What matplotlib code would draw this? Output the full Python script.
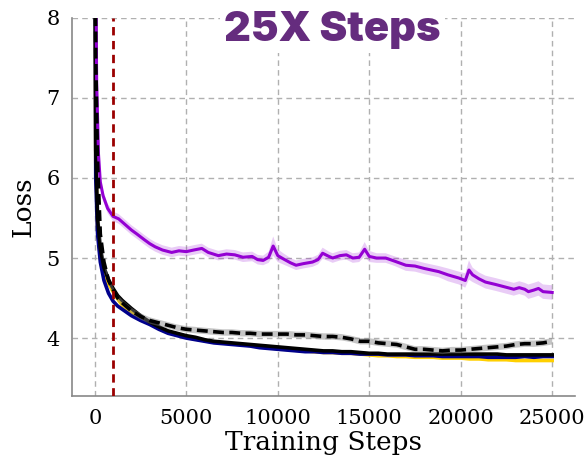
import matplotlib
matplotlib.use("Agg")
import matplotlib.pyplot as plt
import numpy as np

# ---- data ----
purple_steps = [0, 100, 200, 300, 450, 700, 1000, 1300, 1600, 2000, 2300, 2700, 3000, 3300, 3700,
                4200, 4600, 5000, 5400, 5850, 6200, 6750, 7200, 7650, 8100, 8600, 8900, 9200, 9500,
                9750, 10000, 10300, 10700, 11000, 11400, 11900, 12200, 12450, 12800, 13000, 13400,
                13750, 14100, 14450, 14750, 15000, 15400, 15900, 16400, 17000, 17500, 18000, 18400,
                18800, 19300, 19900, 20250, 20450, 20650, 21000, 21350, 21900, 22400, 22900, 23200,
                23500, 23700, 24000, 24250, 24500, 25000]
purple_loss = [10.5, 7.2, 6.3, 5.95, 5.78, 5.62, 5.52, 5.49, 5.43, 5.35, 5.30, 5.23, 5.18, 5.14, 5.10,
               5.07, 5.09, 5.08, 5.10, 5.12, 5.07, 5.03, 5.05, 5.04, 5.01, 5.02, 4.98, 4.97, 5.01,
               5.15, 5.03, 4.99, 4.94, 4.91, 4.93, 4.95, 4.98, 5.06, 5.02, 5.00, 5.03,
               5.04, 5.00, 5.01, 5.11, 5.02, 5.00, 5.00, 4.96, 4.91, 4.90, 4.87, 4.85,
               4.83, 4.79, 4.75, 4.72, 4.85, 4.79, 4.74, 4.70, 4.67, 4.64, 4.61, 4.63,
               4.61, 4.58, 4.60, 4.62, 4.58, 4.57]
purple_band = [0.1, 0.08, 0.07, 0.06, 0.06, 0.06, 0.06, 0.06, 0.06, 0.06, 0.06, 0.06, 0.06, 0.06, 0.06,
               0.06, 0.06, 0.06, 0.06, 0.06, 0.06, 0.06, 0.06, 0.06, 0.06, 0.06, 0.06, 0.06, 0.07,
               0.12, 0.08, 0.07, 0.06, 0.06, 0.06, 0.06, 0.06, 0.07, 0.06, 0.06, 0.06,
               0.06, 0.06, 0.06, 0.09, 0.07, 0.06, 0.06, 0.06, 0.07, 0.07, 0.07, 0.07,
               0.07, 0.08, 0.08, 0.09, 0.12, 0.09, 0.08, 0.08, 0.08, 0.08, 0.08, 0.08,
               0.08, 0.09, 0.09, 0.09, 0.09, 0.09]

steps = [0, 50, 150, 300, 500, 750, 1000, 1250, 1500, 2000, 2500, 3000, 3500, 4000, 4500, 5000,
         5500, 6000, 6500, 7000, 7500, 8000, 8500, 9000, 9500, 10000, 10500, 11000, 11500, 12000,
         12500, 13000, 13500, 14000, 14500, 15000, 15500, 16000, 16500, 17000, 17500, 18000, 18500,
         19000, 19500, 20000, 20500, 21000, 21500, 22000, 22500, 23000, 23500, 24000, 24500, 25000]

dashed_loss = [10.0, 7.5, 6.2, 5.3, 4.95, 4.72, 4.60, 4.50, 4.44, 4.34, 4.27, 4.22, 4.19, 4.16, 4.13, 4.11,
               4.10, 4.09, 4.08, 4.07, 4.07, 4.06, 4.06, 4.05, 4.05, 4.05, 4.05, 4.04, 4.04, 4.03,
               4.02, 4.02, 4.01, 3.99, 3.96, 3.96, 3.94, 3.93, 3.92, 3.89, 3.86, 3.86, 3.85,
               3.84, 3.85, 3.85, 3.86, 3.87, 3.88, 3.89, 3.90, 3.92, 3.93, 3.93, 3.94, 3.96]
black_loss = [10.0, 6.35, 5.5, 5.12, 4.88, 4.73, 4.62, 4.53, 4.47, 4.37, 4.28, 4.20, 4.14, 4.09, 4.06, 4.03,
              4.01, 3.98, 3.96, 3.95, 3.94, 3.93, 3.92, 3.91, 3.90, 3.89, 3.88, 3.87, 3.86, 3.85,
              3.84, 3.84, 3.83, 3.83, 3.82, 3.81, 3.81, 3.80, 3.80, 3.80, 3.80, 3.80, 3.80,
              3.80, 3.80, 3.80, 3.80, 3.80, 3.80, 3.80, 3.79, 3.79, 3.79, 3.79, 3.79, 3.79]
blue_loss = [10.0, 6.0, 5.3, 4.95, 4.72, 4.56, 4.46, 4.40, 4.36, 4.28, 4.22, 4.17, 4.11, 4.06, 4.03, 4.00,
             3.98, 3.96, 3.94, 3.93, 3.92, 3.91, 3.90, 3.88, 3.87, 3.86, 3.85, 3.84, 3.83, 3.83,
             3.82, 3.82, 3.81, 3.81, 3.80, 3.80, 3.80, 3.79, 3.79, 3.79, 3.78, 3.78, 3.78,
             3.77, 3.77, 3.77, 3.77, 3.77, 3.76, 3.76, 3.76, 3.76, 3.77, 3.76, 3.77, 3.77]
gold_loss = [10.0, 6.2, 5.4, 5.0, 4.82, 4.68, 4.58, 4.49, 4.41, 4.32, 4.25, 4.19, 4.13, 4.08, 4.05, 4.02,
             3.99, 3.97, 3.95, 3.94, 3.93, 3.92, 3.91, 3.89, 3.88, 3.87, 3.86, 3.85, 3.84, 3.83,
             3.82, 3.82, 3.81, 3.81, 3.80, 3.79, 3.78, 3.78, 3.77, 3.77, 3.76, 3.76, 3.76,
             3.75, 3.75, 3.75, 3.74, 3.74, 3.73, 3.73, 3.73, 3.72, 3.72, 3.72, 3.72, 3.72]

warmup_step = 1000
xticks = [0, 5000, 10000, 15000, 20000, 25000]
yticks = [4, 5, 6, 7, 8]
title = "25X Steps"

# ---- plot ----
fig = plt.figure(figsize=(5.85, 4.59), dpi=100)
ax = fig.add_axes([0.123, 0.137, 0.86, 0.824])

ps = np.array(purple_steps); pl = np.array(purple_loss); pb = np.array(purple_band)
ax.fill_between(ps, pl - pb, pl + pb, color="#9400D3", alpha=0.2, lw=0)
ax.plot(ps, pl, color="#9400D3", lw=2.2, zorder=4)

st = np.array(steps)
for arr, col, band, fcol in [(gold_loss, "#FFD000", 0.02, "#FFD000"),
                             (blue_loss, "#00008B", 0.015, "#00008B"),
                             (black_loss, "black", 0.015, "gray")]:
    a = np.array(arr)
    ax.fill_between(st, a - band, a + band, color=fcol, alpha=0.3, lw=0)
    ax.plot(st, a, color=col, lw=2.6, zorder=3)

d = np.array(dashed_loss)
ax.fill_between(st, d - 0.04, d + 0.04, color="gray", alpha=0.45, lw=0, zorder=3)
ax.plot(st, d, color="black", lw=2.6, ls=(0, (3, 1.5)), zorder=5)

ax.axvline(warmup_step, color="#9B0000", lw=2, ls=(0, (3, 2)), zorder=6)

ax.set_xlim(-1250, 26250)
ax.set_ylim(3.275, 8)
ax.set_xticks(xticks)
ax.set_yticks(yticks)
ax.grid(True, ls=(0, (4, 3)), color="#b0b0b0", lw=1)
ax.set_axisbelow(True)
for s in ["top", "right"]:
    ax.spines[s].set_visible(False)
for s in ["left", "bottom"]:
    ax.spines[s].set_color("#888888")
    ax.spines[s].set_linewidth(1.2)
ax.tick_params(length=0, pad=9, labelsize=15)
for lab in ax.get_xticklabels() + ax.get_yticklabels():
    lab.set_family("DejaVu Serif")
ax.set_xlabel("Training Steps", family="DejaVu Serif", fontsize=19, labelpad=2)
ax.set_ylabel("Loss", family="DejaVu Serif", fontsize=19, labelpad=8)

fig.text(0.568, 0.935, title, ha="center", va="center", color="#652C7E",
         fontsize=30, fontweight=900, family="Inter",
         bbox=dict(facecolor="white", edgecolor="none", pad=3), zorder=10)

fig.savefig("out.png", dpi=100)
